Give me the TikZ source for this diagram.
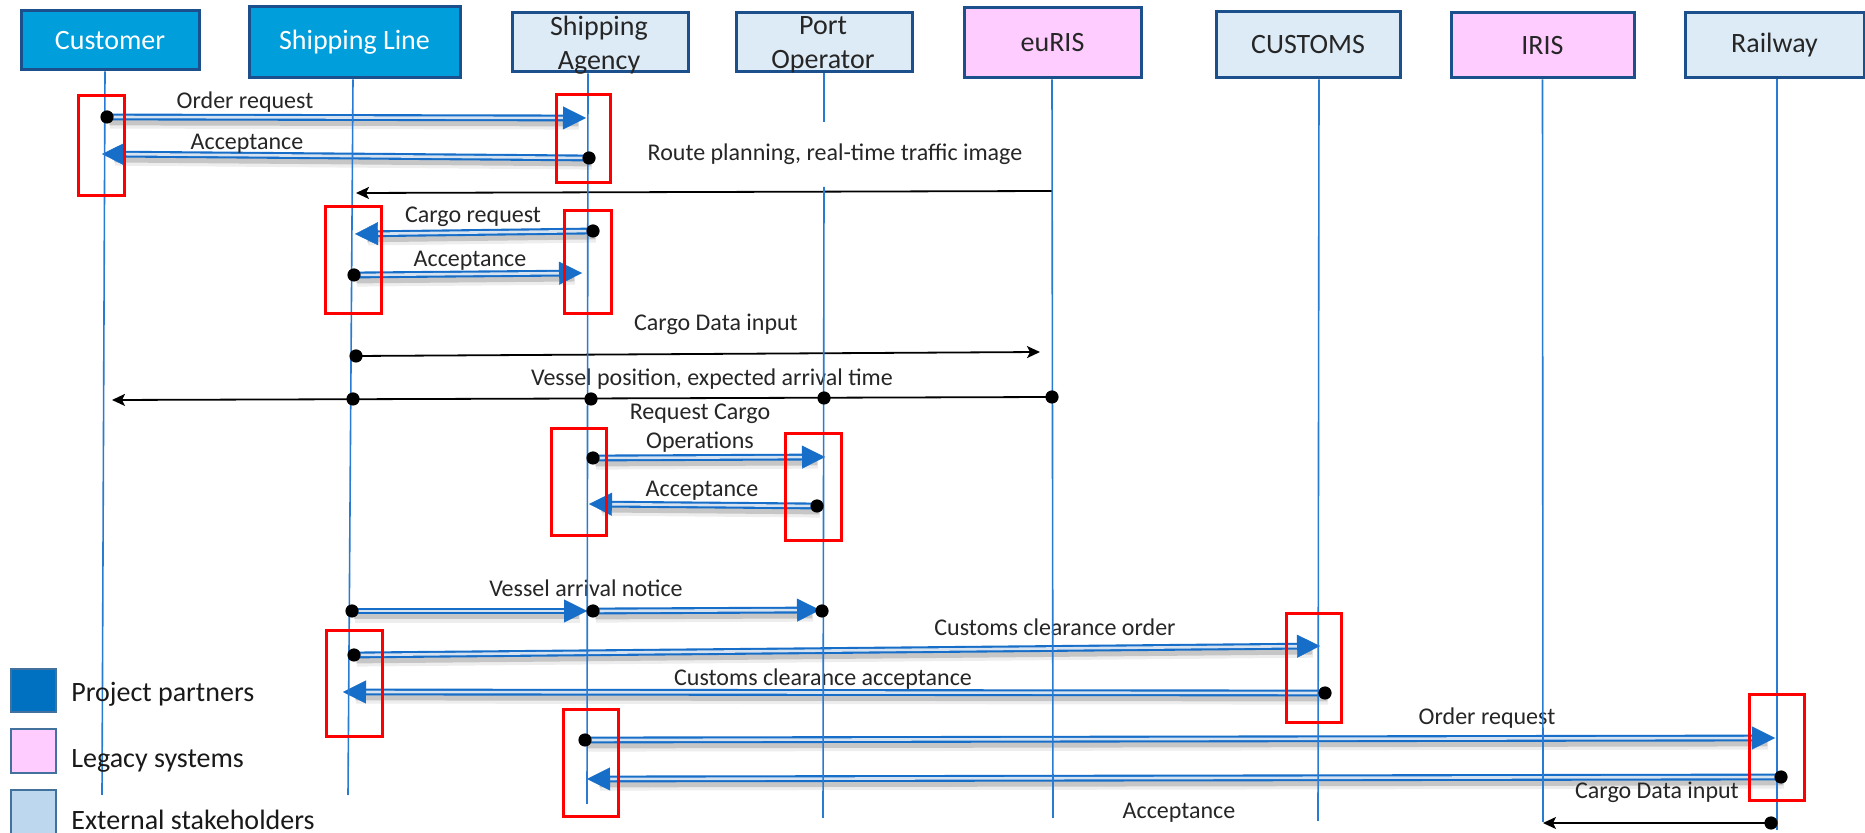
\documentclass[tikz,border=0pt]{standalone}
\usepackage{fontspec}
\setmainfont{Carlito}
\usetikzlibrary{arrows.meta,calc}

\definecolor{partner}{RGB}{0,158,218}
\definecolor{frame}{RGB}{28,80,140}
\definecolor{extfill}{RGB}{221,235,247}
\definecolor{legacy}{RGB}{255,204,255}
\definecolor{lifeblue}{RGB}{40,122,210}
\definecolor{mblue}{RGB}{22,110,200}
\definecolor{mgap}{RGB}{214,226,240}
\definecolor{txt}{RGB}{38,38,38}
\definecolor{lgdark}{RGB}{0,112,192}
\definecolor{lglight}{RGB}{189,215,238}
\definecolor{lgframe}{RGB}{65,113,156}

% blue message: soft shadow, double shaft, solid triangular head
\newcommand\bluemsg[2]{%
  \draw[msgshadowwide] (#1) -- (#2);
  \draw[msgshadow] (#1) -- (#2);
  \draw[msgshaft] (#1) -- (#2);
  \draw[msgtip] ($(#2)!11.5pt!(#1)$) -- (#2);
}
\newcommand\msgdot[1]{\fill[black] (#1) circle[radius=3.3pt];}

\begin{document}
\begin{tikzpicture}[x=0.5pt,y=-0.5pt,
  hdr/.style={draw=frame, line width=1.5pt, inner sep=0pt,
    font=\fontsize{14}{17}\selectfont, align=center},
  partnerbox/.style={hdr, fill=partner, text=white},
  extbox/.style={hdr, fill=extfill, text=txt},
  legacybox/.style={hdr, fill=legacy, text=txt},
  hdrtext/.style={inner sep=0pt, font=\fontsize{14}{17}\selectfont, align=center, text=txt},
  lifeline/.style={draw=lifeblue, line width=0.8pt},
  msgshaft/.style={draw=mblue, line width=1.05pt, double=mgap, double distance=1.3pt, shorten >=9pt},
  msgtip/.style={draw=mblue, fill=mblue, line width=0.2pt, -{Triangle[length=11.5pt,width=11.5pt]}},
  msgshadow/.style={draw=black, opacity=0.16, line width=3.6pt, shorten >=5pt,
    transform canvas={shift={(1.2pt,-2.4pt)}}},
  msgshadowwide/.style={draw=black, opacity=0.07, line width=6pt, shorten >=5pt,
    transform canvas={shift={(1.5pt,-2.8pt)}}},
  blkmsg/.style={draw=black, line width=0.9pt, -{Stealth[length=6.5pt,width=6pt,inset=1.5pt]}},
  lbl/.style={inner sep=0pt, font=\fontsize{12}{14.5}\selectfont, text=txt, align=center},
  redbox/.style={draw=red, line width=1.5pt},
  legendbox/.style={draw=lgframe, line width=0.8pt},
  legendtext/.style={inner sep=0pt, anchor=west, font=\fontsize{14}{17}\selectfont, text=black!90}
]
\useasboundingbox (0,0) rectangle (1865,833);
\fill[white] (0,0) rectangle (1865,833);

% ---------- lifeline end points ----------
\coordinate (cust-b) at (102,795);
\coordinate (sl-b)   at (348,795);
\coordinate (ag-b)   at (587,804);
\coordinate (po-m1)  at (824,122);
\coordinate (po-m2)  at (824,187);
\coordinate (po-b)   at (823,818);
\coordinate (eu-b)   at (1053,818);
\coordinate (cu-b)   at (1318,821);
\coordinate (ir-b)   at (1543,822);
\coordinate (ra-b)   at (1777,830);

% ---------- message end points ----------
\coordinate (m1a) at (107,117);  \coordinate (m1b) at (586,118);
\coordinate (m2a) at (589,158);  \coordinate (m2b) at (102,154);
\coordinate (m3a) at (1052,191); \coordinate (m3b) at (356,193);
\coordinate (m4a) at (593,231);  \coordinate (m4b) at (355,234);
\coordinate (m5a) at (354,275);  \coordinate (m5b) at (582,273);
\coordinate (m6a) at (356,356);  \coordinate (m6b) at (1040,352);
\coordinate (m7a) at (1052,397); \coordinate (m7b) at (112,400);
\coordinate (m7p) at (824,398);  \coordinate (m7g) at (591,399);
\coordinate (m7s) at (353,399);
\coordinate (m8a) at (593,458);  \coordinate (m8b) at (825,457);
\coordinate (m9a) at (817,506);  \coordinate (m9b) at (589,504);
\coordinate (m10a) at (352,611); \coordinate (m10b) at (587,611);
\coordinate (m10c) at (593,611); \coordinate (m10d) at (820,610);
\coordinate (m10e) at (822,611);
\coordinate (m11a) at (354,655); \coordinate (m11b) at (1320,646);
\coordinate (m12a) at (1325,693); \coordinate (m12b) at (343,692);
\coordinate (m13a) at (585,740); \coordinate (m13b) at (1775,738);
\coordinate (m14a) at (1781,777); \coordinate (m14b) at (587,779);
\coordinate (m15a) at (1771,823); \coordinate (m15b) at (1543,823);

% ---------- messages ----------
\bluemsg{m1a}{m1b}
\bluemsg{m2a}{m2b}
\draw[blkmsg] (m3a) -- (m3b);
\bluemsg{m4a}{m4b}
\bluemsg{m5a}{m5b}
\draw[blkmsg] (m6a) -- (m6b);
\draw[blkmsg] (m7a) -- (m7b);
\bluemsg{m8a}{m8b}
\bluemsg{m9a}{m9b}
\bluemsg{m10a}{m10b}
\bluemsg{m10c}{m10d}
\bluemsg{m11a}{m11b}
\bluemsg{m12a}{m12b}
\bluemsg{m13a}{m13b}
\bluemsg{m14a}{m14b}
\draw[blkmsg] (m15a) -- (m15b);

% ---------- message labels ----------
\node[lbl] (t1)  at (245,102) {Order request};
\node[lbl] (t2)  at (247,144) {Acceptance};
\node[lbl] (t3)  at (835,154) {Route planning, real-time traffic image};
\node[lbl] (t4)  at (473,217) {Cargo request};
\node[lbl] (t5)  at (470,261) {Acceptance};
\node[lbl] (t6)  at (716,324) {Cargo Data input};
\node[lbl] (t7)  at (712,379) {Vessel position, expected arrival time};
\node[lbl] (t8)  at (700,428) {Request Cargo\\Operations};
\node[lbl] (t9)  at (702,491) {Acceptance};
\node[lbl] (t10) at (586,588) {Vessel arrival notice};
\node[lbl] (t11) at (1055,627) {Customs clearance order};
\node[lbl] (t12) at (823,679) {Customs clearance acceptance};
\node[lbl] (t13) at (1487,718) {Order request};
\node[lbl] (t14) at (1657,792) {Cargo Data input};
\node[lbl] (t15) at (1179,813) {Acceptance};

% ---------- participants ----------
\node[partnerbox, minimum width=89pt, minimum height=29.5pt] (cust) at (110,40.5) {Customer};
\node[partnerbox, minimum width=105.5pt, minimum height=35.5pt] (sl) at (354.5,42.5) {Shipping Line};
\node[extbox, minimum width=88pt, minimum height=29.5pt] (ag) at (600,42.5) {};
\node[hdrtext] (ag-t) at (599,45) {Shipping\\Agency};
\node[extbox, minimum width=88pt, minimum height=29.5pt] (po) at (824,42.5) {};
\node[hdrtext] (po-t) at (823,45) {Port\\Operator};
\node[legacybox, minimum width=88.5pt, minimum height=35pt] (eu) at (1052.5,43) {euRIS};
\node[extbox, minimum width=92pt, minimum height=33pt] (cu) at (1308,45) {CUSTOMS};
\node[legacybox, minimum width=91.5pt, minimum height=32.5pt] (ir) at (1542.5,45.5) {IRIS};
\node[extbox, minimum width=89.5pt, minimum height=32.5pt] (ra) at (1774.5,45.5) {Railway};

% ---------- lifelines ----------
\draw[lifeline] (cust.south -| 105,0) -- (cust-b);
\draw[lifeline] (sl.south -| 353,0) -- (sl-b);
\draw[lifeline] (ag.south -| 588,0) -- (ag-b);
\draw[lifeline] (po.south) -- (po-m1);
\draw[lifeline] (po-m2) -- (po-b);
\draw[lifeline] (eu.south -| 1052,0) -- (eu-b);
\draw[lifeline] (cu.south -| 1319,0) -- (cu-b);
\draw[lifeline] (ir.south) -- (ir-b);
\draw[lifeline] (ra.south -| 1777,0) -- (ra-b);

% ---------- sender dots ----------
\msgdot{m1a} \msgdot{m2a} \msgdot{m4a} \msgdot{m5a} \msgdot{m6a}
\msgdot{m7a} \msgdot{m7p} \msgdot{m7g} \msgdot{m7s}
\msgdot{m8a} \msgdot{m9a} \msgdot{m10a} \msgdot{m10c} \msgdot{m10e}
\msgdot{m11a} \msgdot{m12a} \msgdot{m13a} \msgdot{m14a} \msgdot{m15a}

% ---------- activation frames ----------
\draw[redbox] (78,96) rectangle (124,196);
\draw[redbox] (556,95) rectangle (610,183);
\draw[redbox] (325,207) rectangle (381,314);
\draw[redbox] (564,211) rectangle (611,314);
\draw[redbox] (551,429) rectangle (606,536);
\draw[redbox] (785,434) rectangle (841,541);
\draw[redbox] (326,631) rectangle (382,737);
\draw[redbox] (1286,614) rectangle (1341,723);
\draw[redbox] (563,710) rectangle (618,817);
\draw[redbox] (1749,695) rectangle (1804,801);

% ---------- legend ----------
\filldraw[legendbox, fill=lgdark] (11,669) rectangle (56,712);
\filldraw[legendbox, fill=legacy] (11,729) rectangle (56,773);
\filldraw[legendbox, fill=lglight] (11,790) rectangle (56,834);
\node[legendtext] (lg1) at (71,694) {Project partners};
\node[legendtext] (lg2) at (71,761) {Legacy systems};
\node[legendtext] (lg3) at (71,820) {External stakeholders};
\end{tikzpicture}
\end{document}
